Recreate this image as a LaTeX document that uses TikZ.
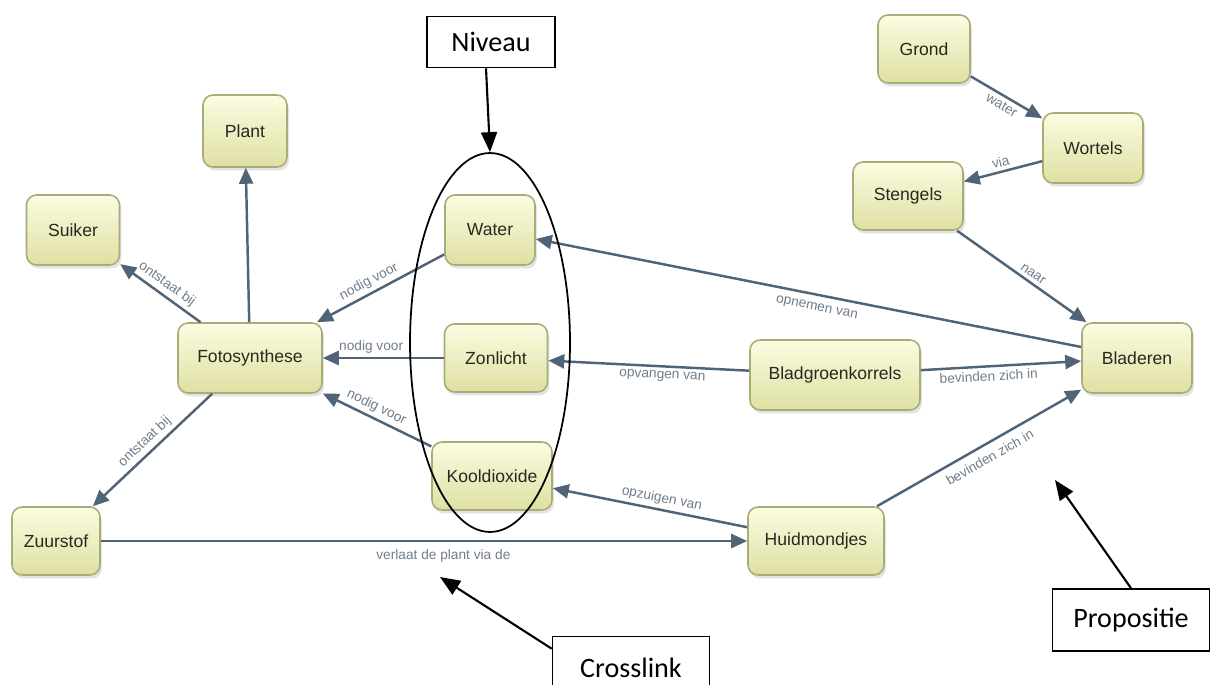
\documentclass[tikz,border=0pt]{standalone}
\usepackage{fontspec}
\setmainfont{Liberation Sans}
\newfontfamily\calibrifont{Carlito}
\usepackage{tikz}
\usetikzlibrary{shapes.geometric, arrows.meta, shadows}
\definecolor{begriprand}{RGB}{170,172,120}
\definecolor{begripboven}{RGB}{252,252,226}
\definecolor{begriponder}{RGB}{222,224,162}
\definecolor{begriptekst}{RGB}{40,40,32}
\definecolor{pijlkleur}{RGB}{80,100,120}
\definecolor{etiketkleur}{RGB}{112,126,140}
\tikzset{
  begrip/.style={rectangle, rounded corners=2mm, draw=begriprand, line width=0.9pt,
    top color=begripboven, bottom color=begriponder, text=begriptekst,
    font=\fontsize{10}{12}\selectfont, inner sep=0pt,
    drop shadow={opacity=0.22, shadow xshift=0.4mm, shadow yshift=-0.7mm}},
  relatie/.style={-{Triangle[length=3.2mm, width=2.8mm]}, draw=pijlkleur, line width=1.4pt},
  etiket/.style={font=\fontsize{7.8}{9}\selectfont, text=etiketkleur, sloped, inner sep=2pt},
  uitleg/.style={rectangle, draw=black, line width=0.9pt, fill=white,
    font=\calibrifont\fontsize{16}{19}\selectfont, inner sep=0pt},
  wijzer/.style={-{Triangle[length=4mm, width=3.2mm]}, draw=black, line width=1.2pt}
}

\begin{document}
\begin{tikzpicture}[x=0.02cm, y=-0.02cm]
  \fill[white] (0,0) rectangle (1220,685);
  \useasboundingbox (0,0) rectangle (1220,685);
  % begrippen
  \node[begrip, minimum width=18.4mm, minimum height=13.6mm] (grond) at (924,49) {Grond};
  \node[begrip, minimum width=16.8mm, minimum height=14.4mm] (plant) at (245,131) {Plant};
  \node[begrip, minimum width=20mm, minimum height=14mm] (wortels) at (1093,148) {Wortels};
  \node[begrip, minimum width=22mm, minimum height=13.6mm] (stengels) at (908,196) {Stengels};
  \node[begrip, minimum width=18.6mm, minimum height=14mm] (suiker) at (73,230) {Suiker};
  \node[begrip, minimum width=18mm, minimum height=14mm] (water) at (490,230) {Water};
  \node[begrip, minimum width=28.8mm, minimum height=14mm] (foto) at (250,358) {Fotosynthese};
  \node[begrip, minimum width=20.6mm, minimum height=13.6mm] (zonlicht) at (496,358) {Zonlicht};
  \node[begrip, minimum width=34mm, minimum height=14mm] (bladgroen) at (835,375) {Bladgroenkorrels};
  \node[begrip, minimum width=22mm, minimum height=14mm] (bladeren) at (1137,358) {Bladeren};
  \node[begrip, minimum width=24mm, minimum height=13.6mm] (kool) at (492,476) {Kooldioxide};
  \node[begrip, minimum width=17.6mm, minimum height=13.6mm] (zuurstof) at (56,541) {Zuurstof};
  \node[begrip, minimum width=27.2mm, minimum height=13.6mm] (huid) at (816,541) {Huidmondjes};
  % relaties
  \draw[relatie] (grond) -- node[etiket, below, pos=.5] {water} (wortels);
  \draw[relatie] (wortels) -- node[etiket, above, pos=.5] {via} (stengels);
  \draw[relatie] (stengels) -- node[etiket, above, pos=.55] {naar} (bladeren);
  \draw[relatie] (bladeren) -- node[etiket, below=2pt, pos=.48] {opnemen van} (water);
  \draw[relatie] (bladgroen) -- node[etiket, below, pos=.43] {opvangen van} (zonlicht);
  \draw[relatie] (bladgroen) -- node[etiket, below, pos=.42] {bevinden zich in} (bladeren);
  \draw[relatie] (huid) -- node[etiket, below=2pt, pos=.52] {bevinden zich in} (bladeren);
  \draw[relatie] (huid) -- node[etiket, above, pos=.45] {opzuigen van} (kool);
  \draw[relatie] (zuurstof) -- node[etiket, below=2pt, pos=.53] {verlaat de plant via de} (huid);
  \draw[relatie] (water) -- node[etiket, above, pos=.55] {nodig voor} (foto);
  \draw[relatie] (zonlicht) -- node[etiket, above, pos=.6] {nodig voor} (foto);
  \draw[relatie] (kool) -- node[etiket, above, pos=.55] {nodig voor} (foto);
  \draw[relatie] (foto) -- node[etiket, above, pos=.5] {ontstaat bij} (suiker);
  \draw[relatie] (foto) -- (plant);
  \draw[relatie] (foto) -- node[etiket, above, pos=.5] {ontstaat bij} (zuurstof);
  % toelichting
  \node[draw=black, line width=1pt, ellipse, minimum width=32mm, minimum height=75.8mm,
    inner sep=0pt] (kring) at (490,342.5) {};
  \node[uitleg, minimum width=25.6mm, minimum height=10.2mm] (niveau) at (491,42) {Niveau};
  \node[uitleg, minimum width=31.4mm, minimum height=12.6mm] (kruis) at (631,668) {Crosslink};
  \node[uitleg, minimum width=31.4mm, minimum height=12.4mm] (propositie) at (1131,620) {Propositie};
  \coordinate (kruispunt) at (440,577);
  \coordinate (propositiepunt) at (1055,480);
  \draw[wijzer] (niveau.south -| 486,0) -- (kring.north);
  \draw[wijzer] ([yshift=-2.6mm]kruis.north west) -- (kruispunt);
  \draw[wijzer] (propositie.north) -- (propositiepunt);
\end{tikzpicture}
\end{document}
